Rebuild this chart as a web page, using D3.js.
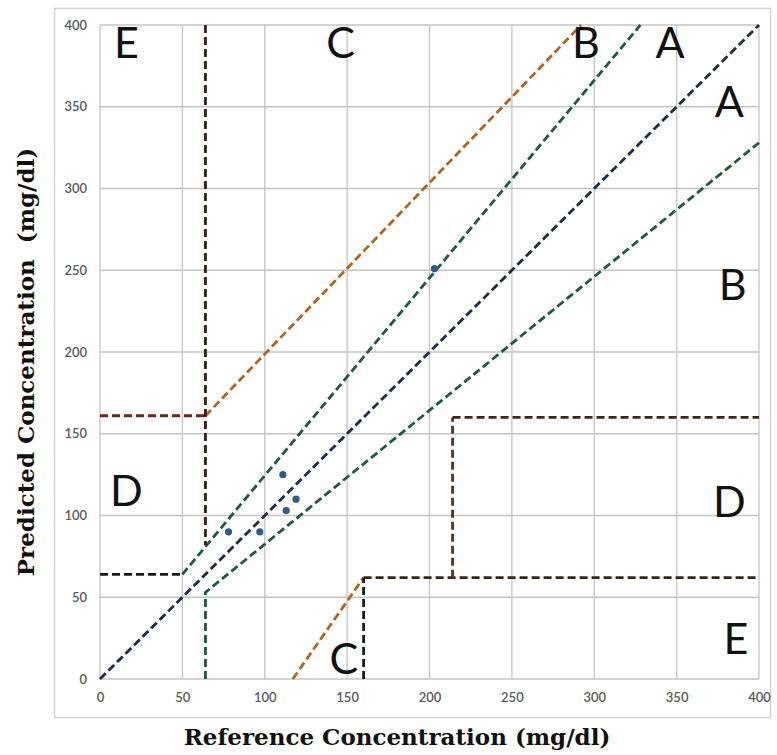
<!DOCTYPE html>
<html>
<head>
<meta charset="utf-8">
<script src="https://cdn.jsdelivr.net/npm/d3@7"></script>
<style>
  body { margin: 0; background: #fff; }
  svg { display: block; }
</style>
</head>
<body>
<div id="chart"></div>
<script>
// measured points (reference, predicted)
var refValues = [78, 97, 111, 113, 119, 203];
var predValues = [90, 90, 125, 103, 110, 251];

var ticks = [0, 50, 100, 150, 200, 250, 300, 350, 400];

// zone boundary lines of the error grid
var zoneLines = [
  {name: "diag",      color: "#1f2a48", pts: [[0, 0], [400, 400]]},
  {name: "upperAB",   color: "#1d5b3a", pts: [[50, 64], [328, 400]]},
  {name: "lowerAB",   color: "#1d5b3a", pts: [[64, 0], [64, 53], [400, 328]]},
  {name: "leftLow",   color: "#1c1c1c", pts: [[0, 64], [50, 64]]},
  {name: "upperC",    color: "#b0661e", pts: [[64, 161], [292, 400]]},
  {name: "upperE",    color: "#6e2616", pts: [[0, 161], [64, 161]]},
  {name: "upperEv",   color: "#3a1c16", pts: [[64, 400], [64, 82]]},
  {name: "lowerC",    color: "#b0661e", pts: [[117, 0], [160, 62]]},
  {name: "lowerCv",   color: "#1c1c1c", pts: [[160, 0], [160, 62]]},
  {name: "lowerE",    color: "#3e2412", pts: [[160, 62], [400, 62]]},
  {name: "lowerDv",   color: "#6b2814", pts: [[214, 62], [214, 160]]},
  {name: "lowerD",    color: "#3e2a14", pts: [[214, 160], [400, 160]]}
];

// zone letters (data position)
var zoneLabels = [
  {t: "E", x: 16,  y: 380},
  {t: "C", x: 146, y: 380},
  {t: "B", x: 295, y: 380},
  {t: "A", x: 346, y: 380},
  {t: "A", x: 382, y: 344},
  {t: "B", x: 384, y: 232},
  {t: "D", x: 16,  y: 106},
  {t: "D", x: 382, y: 99},
  {t: "E", x: 386, y: 15},
  {t: "C", x: 148, y: 3}
];

var width = 777, height = 755;
var margin = {top: 25, right: 18, bottom: 76, left: 100};

var svg = d3.select("#chart").append("svg")
  .attr("width", width)
  .attr("height", height);

// outer frame
svg.append("rect")
  .attr("x", 54.5).attr("y", 8.5)
  .attr("width", 716).attr("height", 709)
  .attr("fill", "none")
  .attr("stroke", "#d4d4d4")
  .attr("stroke-width", 1.5);

var x = d3.scaleLinear().domain([0, 400]).range([margin.left, width - margin.right]);
var y = d3.scaleLinear().domain([0, 400]).range([height - margin.bottom, margin.top]);

// grid
svg.append("g")
  .selectAll("line.gx")
  .data(ticks)
  .enter().append("line")
  .attr("x1", function(d) { return x(d); })
  .attr("x2", function(d) { return x(d); })
  .attr("y1", y(0)).attr("y2", y(400))
  .attr("stroke", "#c4c4c4")
  .attr("stroke-width", 1.3);

svg.append("g")
  .selectAll("line.gy")
  .data(ticks)
  .enter().append("line")
  .attr("y1", function(d) { return y(d); })
  .attr("y2", function(d) { return y(d); })
  .attr("x1", x(0)).attr("x2", x(400))
  .attr("stroke", "#c4c4c4")
  .attr("stroke-width", 1.3);

// axes (labels only)
var xAxis = svg.append("g")
  .attr("transform", "translate(0," + y(0) + ")")
  .call(d3.axisBottom(x).tickValues(ticks).tickSize(0).tickPadding(14));
var yAxis = svg.append("g")
  .attr("transform", "translate(" + x(0) + ",0)")
  .call(d3.axisLeft(y).tickValues(ticks).tickSize(0).tickPadding(13));

[xAxis, yAxis].forEach(function(a) {
  a.select(".domain").remove();
  a.selectAll("text")
    .attr("font-family", "Lato, 'Open Sans', sans-serif")
    .attr("font-size", 13)
    .attr("font-weight", 600)
    .attr("fill", "#5a5a5a");
});

// zone lines
var line = d3.line()
  .x(function(d) { return x(d[0]); })
  .y(function(d) { return y(d[1]); });

svg.append("g")
  .selectAll("path")
  .data(zoneLines)
  .enter().append("path")
  .attr("d", function(d) { return line(d.pts); })
  .attr("fill", "none")
  .attr("stroke", function(d) { return d.color; })
  .attr("stroke-width", 2.8)
  .attr("stroke-dasharray", "8,4");

// zone letters
svg.append("g")
  .selectAll("text")
  .data(zoneLabels)
  .enter().append("text")
  .attr("x", function(d) { return x(d.x); })
  .attr("y", function(d) { return y(d.y); })
  .attr("text-anchor", "middle")
  .attr("font-family", "Lato, 'Open Sans', sans-serif")
  .attr("font-size", 43)
  .attr("fill", "#111")
  .text(function(d) { return d.t; });

// points
svg.append("g")
  .selectAll("circle")
  .data(refValues)
  .enter().append("circle")
  .attr("cx", function(d) { return x(d); })
  .attr("cy", function(d, i) { return y(predValues[i]); })
  .attr("r", 3.6)
  .attr("fill", "#2f5b8c");

// axis titles
svg.append("text")
  .attr("x", 397).attr("y", 745)
  .attr("text-anchor", "middle")
  .attr("font-family", "'DejaVu Serif', serif")
  .attr("font-weight", "bold")
  .attr("font-size", 23)
  .attr("fill", "#111")
  .text("Reference Concentration (mg/dl)");

svg.append("text")
  .attr("transform", "translate(34,362) rotate(-90)")
  .attr("text-anchor", "middle")
  .attr("font-family", "'DejaVu Serif', serif")
  .attr("font-weight", "bold")
  .attr("font-size", 23)
  .attr("fill", "#111")
  .style("white-space", "pre")
  .text("Predicted Concentration  (mg/dl)");
</script>
</body>
</html>
